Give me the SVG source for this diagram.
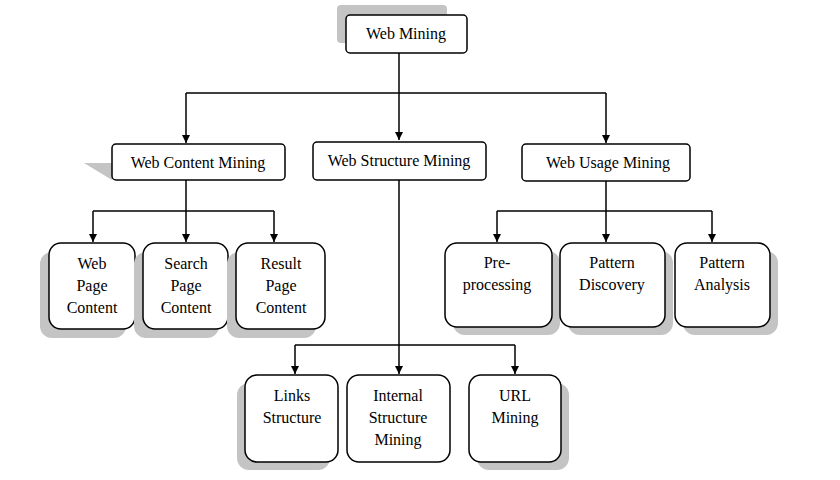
<svg xmlns="http://www.w3.org/2000/svg" width="840" height="480" viewBox="0 0 840 480">
<defs>
<style>
.b{fill:#fff;stroke:#000;stroke-width:1.5}
.s{fill:#c4c4c4}
text{font-family:"Liberation Serif",serif;font-size:16px;text-anchor:middle;fill:#000}
.c{fill:none;stroke:#000;stroke-width:1.5}
</style>
<marker id="a" viewBox="0 0 10 10" refX="10" refY="5" markerWidth="8" markerHeight="8" markerUnits="userSpaceOnUse" orient="auto"><path d="M0,0L10,5L0,10z" fill="#000"/></marker>
</defs>
<rect width="840" height="480" fill="#fff"/>
<g id="connectors" class="c">
<path class="c" d="M399,53V140" marker-end="url(#a)"/>
<path class="c" d="M186,93H606"/>
<path class="c" d="M186,93V143" marker-end="url(#a)"/>
<path class="c" d="M606,93V143" marker-end="url(#a)"/>
<path class="c" d="M186,180V242" marker-end="url(#a)"/>
<path class="c" d="M93,211H274"/>
<path class="c" d="M93,211V242" marker-end="url(#a)"/>
<path class="c" d="M274,211V242" marker-end="url(#a)"/>
<path class="c" d="M606,181V242" marker-end="url(#a)"/>
<path class="c" d="M497,211H712"/>
<path class="c" d="M497,211V242" marker-end="url(#a)"/>
<path class="c" d="M712,211V242" marker-end="url(#a)"/>
<path class="c" d="M399,180V374" marker-end="url(#a)"/>
<path class="c" d="M295,345H515"/>
<path class="c" d="M295,345V374" marker-end="url(#a)"/>
<path class="c" d="M515,345V374" marker-end="url(#a)"/>
</g>
<g id="webmining"><rect class="s" x="337" y="5" width="110" height="38" rx="4"/><rect class="b" x="346" y="15" width="121" height="38" rx="4"/><text x="406" y="39">Web Mining</text></g>
<g id="content"><path class="s" d="M84,163H112V180z"/><rect class="b" x="112" y="144" width="173" height="36" rx="4"/><text x="198" y="168">Web Content Mining</text></g>
<g id="structure"><rect class="b" x="313" y="142" width="173" height="38" rx="4"/><text x="399" y="166">Web Structure Mining</text></g>
<g id="usage"><rect class="b" x="522" y="144" width="168" height="37" rx="4"/><text x="608" y="168">Web Usage Mining</text></g>
<g id="wpc"><rect class="s" x="40" y="252" width="86" height="86" rx="12"/><rect class="b" x="49" y="243" width="86" height="86" rx="12"/><text x="92" y="269">Web</text><text x="92" y="291">Page</text><text x="92" y="313">Content</text></g>
<g id="spc"><rect class="s" x="134" y="252" width="85" height="86" rx="12"/><rect class="b" x="143" y="243" width="85" height="86" rx="12"/><text x="186" y="269">Search</text><text x="186" y="291">Page</text><text x="186" y="313">Content</text></g>
<g id="rpc"><rect class="s" x="227" y="252" width="89" height="86" rx="12"/><rect class="b" x="236" y="243" width="89" height="86" rx="12"/><text x="281" y="269">Result</text><text x="281" y="291">Page</text><text x="281" y="313">Content</text></g>
<g id="pre"><rect class="s" x="453" y="251" width="107" height="84" rx="12"/><rect class="b" x="445" y="243" width="107" height="84" rx="12"/><text x="497" y="268">Pre-</text><text x="497" y="290">processing</text></g>
<g id="pd"><rect class="s" x="568" y="251" width="105" height="84" rx="12"/><rect class="b" x="560" y="243" width="105" height="84" rx="12"/><text x="612" y="268">Pattern</text><text x="612" y="290">Discovery</text></g>
<g id="pa"><rect class="s" x="683" y="251" width="95" height="84" rx="12"/><rect class="b" x="675" y="243" width="95" height="84" rx="12"/><text x="722" y="268">Pattern</text><text x="722" y="290">Analysis</text></g>
<g id="links"><rect class="s" x="237" y="383" width="93" height="87" rx="12"/><rect class="b" x="245" y="375" width="93" height="87" rx="12"/><text x="292" y="401">Links</text><text x="292" y="423">Structure</text></g>
<g id="internal"><rect class="b" x="347" y="375" width="103" height="87" rx="12"/><text x="398" y="401">Internal</text><text x="398" y="423">Structure</text><text x="398" y="445">Mining</text></g>
<g id="url"><rect class="s" x="477" y="383" width="92" height="87" rx="12"/><rect class="b" x="469" y="375" width="92" height="87" rx="12"/><text x="515" y="401">URL</text><text x="515" y="423">Mining</text></g>
</svg>
